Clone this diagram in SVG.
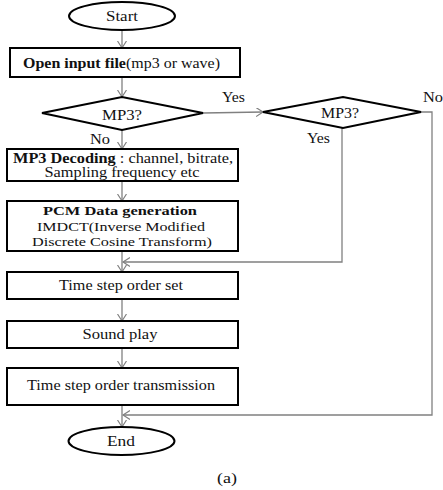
<svg xmlns="http://www.w3.org/2000/svg" width="443" height="490" viewBox="0 0 443 490" font-family="'Liberation Serif', 'DejaVu Serif', serif">
<style>
text{font-family:"Liberation Serif","DejaVu Serif",serif;font-size:14px;fill:#111;}
.b{font-weight:bold;}
.box{fill:#fff;stroke:#000;stroke-width:2;}
.con{fill:none;stroke:#808080;stroke-width:1.3;}
</style>
<defs>
<marker id="ah" markerUnits="userSpaceOnUse" markerWidth="10" markerHeight="10" refX="7" refY="4.5" orient="auto">
<path d="M0,0 L7,4.5 L0,9" fill="none" stroke="#808080" stroke-width="1.2"/>
</marker>
</defs>
<rect width="443" height="490" fill="#fff"/>
<g id="connectors">
<line class="con" x1="122" y1="30" x2="122" y2="48" marker-end="url(#ah)"/>
<line class="con" x1="122" y1="77" x2="122" y2="97" marker-end="url(#ah)"/>
<line class="con" x1="203" y1="113" x2="263" y2="112" marker-end="url(#ah)"/>
<line class="con" x1="122" y1="130" x2="122" y2="149" marker-end="url(#ah)"/>
<line class="con" x1="122" y1="181" x2="122" y2="201" marker-end="url(#ah)"/>
<line class="con" x1="122" y1="251" x2="122" y2="272" marker-end="url(#ah)"/>
<polyline class="con" points="342,128 342,262 123,262" marker-end="url(#ah)"/>
<line class="con" x1="122" y1="299" x2="122" y2="321" marker-end="url(#ah)"/>
<line class="con" x1="122" y1="348" x2="122" y2="368" marker-end="url(#ah)"/>
<line class="con" x1="122" y1="405" x2="122" y2="427" marker-end="url(#ah)"/>
<polyline class="con" points="421,112 432,112 432,415 123,415" marker-end="url(#ah)"/>
<text x="222" y="102" textLength="23" lengthAdjust="spacingAndGlyphs">Yes</text>
<text x="423" y="102" textLength="20" lengthAdjust="spacingAndGlyphs">No</text>
<text x="307" y="143" textLength="23" lengthAdjust="spacingAndGlyphs">Yes</text>
<text x="90" y="144" textLength="20" lengthAdjust="spacingAndGlyphs">No</text>
</g>
<g id="start">
<ellipse class="box" cx="122" cy="16" rx="53" ry="14"/>
<text x="122" y="21" text-anchor="middle" textLength="32" lengthAdjust="spacingAndGlyphs">Start</text>
</g>
<g id="open">
<rect class="box" x="10" y="48" width="230" height="29"/>
<text x="23" y="68" textLength="197" lengthAdjust="spacingAndGlyphs"><tspan class="b">Open input file</tspan>(mp3 or wave)</text>
</g>
<g id="mp3q1">
<polygon class="box" points="42,113 122,97 203,113 122,130"/>
<text x="122" y="120" text-anchor="middle" textLength="40" lengthAdjust="spacingAndGlyphs">MP3?</text>
</g>
<g id="mp3q2">
<polygon class="box" points="263,112 343,97 421,112 343,128"/>
<text x="340" y="118" text-anchor="middle" textLength="38" lengthAdjust="spacingAndGlyphs">MP3?</text>
</g>
<g id="decoding">
<rect class="box" x="7" y="149" width="231" height="32"/>
<text x="13" y="163" textLength="220" lengthAdjust="spacingAndGlyphs"><tspan class="b">MP3 Decoding</tspan> : channel, bitrate,</text>
<text x="122" y="177" text-anchor="middle" textLength="155" lengthAdjust="spacingAndGlyphs">Sampling frequency etc</text>
</g>
<g id="pcm">
<rect class="box" x="7" y="201" width="231" height="50"/>
<text x="120" y="215" text-anchor="middle" class="b" textLength="154" lengthAdjust="spacingAndGlyphs" style="font-size:13.5px">PCM Data generation</text>
<text x="121" y="231" text-anchor="middle" textLength="168" lengthAdjust="spacingAndGlyphs" style="font-size:13.5px">IMDCT(Inverse Modified</text>
<text x="122" y="246" text-anchor="middle" textLength="180" lengthAdjust="spacingAndGlyphs" style="font-size:13.5px">Discrete Cosine Transform)</text>
</g>
<g id="timeset">
<rect class="box" x="7" y="272" width="231" height="27"/>
<text x="121" y="290" text-anchor="middle" textLength="124" lengthAdjust="spacingAndGlyphs">Time step order set</text>
</g>
<g id="sound">
<rect class="box" x="7" y="321" width="231" height="27"/>
<text x="120" y="339" text-anchor="middle" textLength="75" lengthAdjust="spacingAndGlyphs">Sound play</text>
</g>
<g id="transmission">
<rect class="box" x="7" y="368" width="231" height="37"/>
<text x="121" y="390" text-anchor="middle" textLength="188" lengthAdjust="spacingAndGlyphs">Time step order transmission</text>
</g>
<g id="end">
<ellipse class="box" cx="121.5" cy="441" rx="53" ry="14"/>
<text x="121" y="446" text-anchor="middle" textLength="28" lengthAdjust="spacingAndGlyphs">End</text>
</g>
<text x="217" y="483" textLength="20" lengthAdjust="spacingAndGlyphs">(a)</text>
</svg>
